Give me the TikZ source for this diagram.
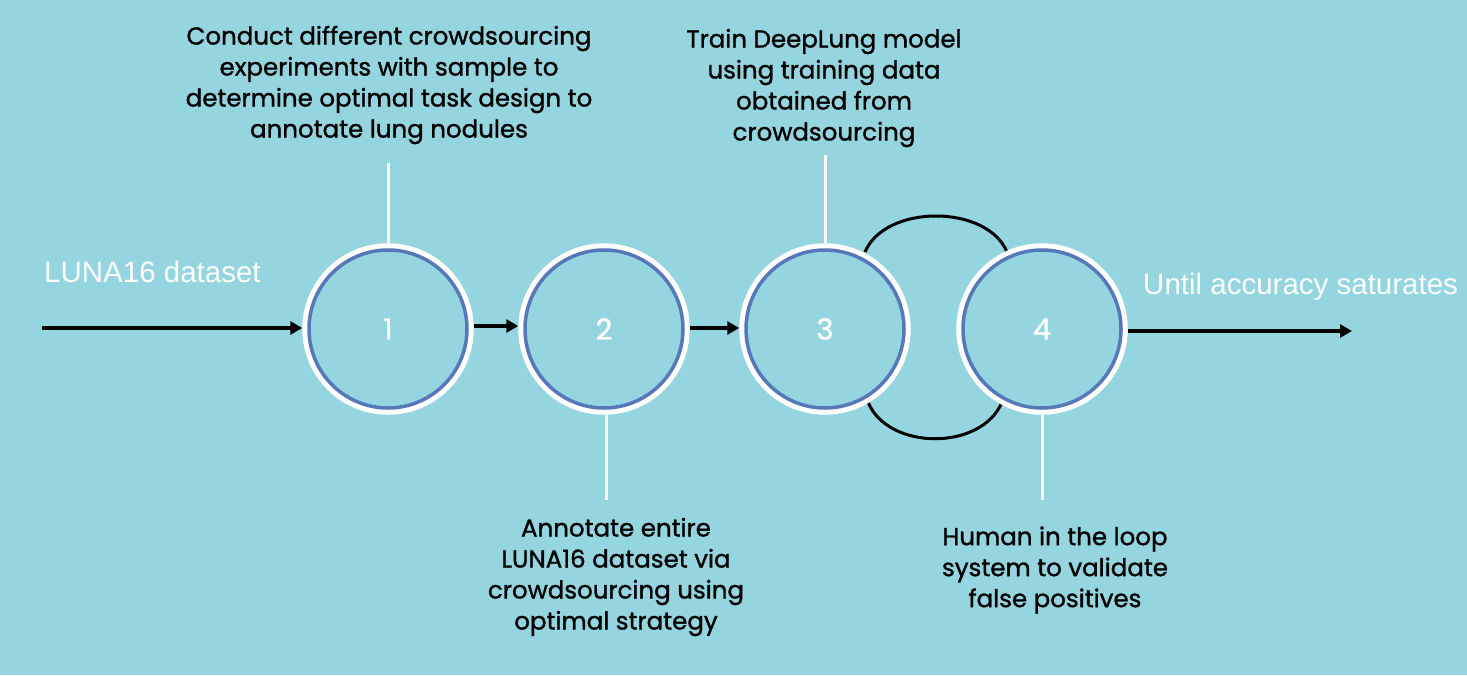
\documentclass[tikz,border=0pt]{standalone}
\usepackage{fontspec}
\setmainfont{Poppins}[FakeBold=1.2]
\newfontfamily\arialfont{Liberation Sans}
\usetikzlibrary{arrows.meta}
\definecolor{bgblue}{HTML}{95D5E0}
\definecolor{ringblue}{HTML}{5677BA}
\tikzset{
  stage/.style={circle, draw=white, line width=5.5pt, minimum size=166pt, inner sep=0pt,
    text=white, font=\fontsize{29}{30}\selectfont},
  inner ring/.style={draw=ringblue, line width=3.5pt},
  desc/.style={align=center, text=black, inner sep=0pt, font=\fontsize{24.5}{31}\selectfont},
  flowarrow/.style={draw=black, line width=3.5pt, -{Triangle[length=12pt,width=13pt]}},
  tick/.style={draw=white, line width=3pt},
  loop/.style={draw=black, line width=3pt},
  side/.style={text=white, inner sep=0pt, anchor=west, font=\arialfont\fontsize{29.5}{34}\selectfont}
}
\begin{document}
\begin{tikzpicture}[x=1pt,y=-1pt]
\fill[bgblue] (0,0) rectangle (1467,675);
\useasboundingbox (0,0) rectangle (1467,675);
% loop arcs
\coordinate (la) at (865,252);
\coordinate (lb) at (1007,252);
\coordinate (lc) at (868,402);
\coordinate (ld) at (1002,402);
\draw[loop] (la) .. controls (885,204) and (987,204) .. (lb);
\draw[loop] (lc) .. controls (888,451) and (982,451) .. (ld);
% stages
\node[stage] (s1) at (388,329) {1};
\node[stage] (s2) at (604,329) {2};
\node[stage] (s3) at (825,329) {3};
\node[stage] (s4) at (1042,329) {4};
\foreach \s in {s1,s2,s3,s4} \draw[inner ring] (\s.center) circle (79);
% ticks
\coordinate (t1) at (388,163);
\coordinate (t2) at (606,500);
\coordinate (t3) at (825,155);
\coordinate (t4) at (1042,500);
\draw[tick] (t1) -- (s1.north);
\draw[tick] (t2) -- (s2.south -| t2);
\draw[tick] (t3) -- (s3.north);
\draw[tick] (t4) -- (s4.south);
% arrows
\coordinate (in) at (42,328);
\coordinate (out) at (1352,331);
\draw[flowarrow] (in) -- (s1.west |- in);
\draw[flowarrow] (s1.east |- 0,326) -- (s2.west |- 0,326);
\draw[flowarrow] (s2.east |- 0,328) -- (s3.west |- 0,328);
\draw[flowarrow] (s4.east |- out) -- (out);
% side labels
\node[side] (luna) at (44,272) {LUNA16 dataset};
\node[side] (until) at (1143,287) {Until accuracy saturates};
% descriptions
\node[desc] (d1) at (389,85) {Conduct different crowdsourcing\\experiments with sample to\\determine optimal task design to\\annotate lung nodules};
\node[desc] (d2) at (616,577) {Annotate entire\\LUNA16 dataset via\\crowdsourcing using\\optimal strategy};
\node[desc] (d3) at (824,88) {Train DeepLung model\\using training data\\obtained from\\crowdsourcing};
\node[desc] (d4) at (1055,570) {Human in the loop\\system to validate\\false positives};
\end{tikzpicture}
\end{document}
